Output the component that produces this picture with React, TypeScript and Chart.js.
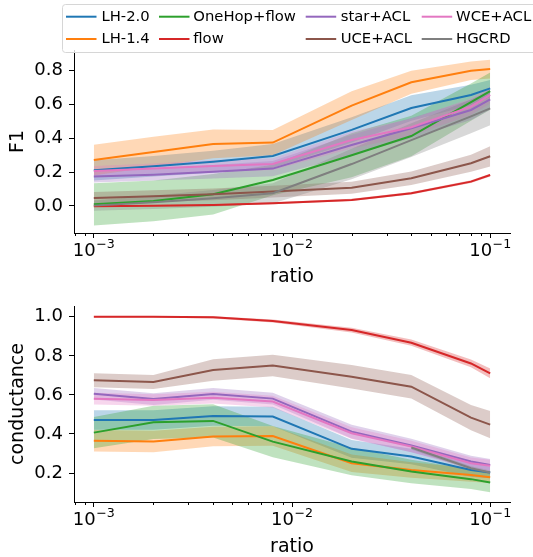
import React, { useEffect, useRef } from 'react';
import { Chart, registerables } from 'chart.js';

Chart.register(...registerables);

const FONT = '"DejaVu Sans", sans-serif';

// ---------- data ----------
const ratios = [0.001, 0.002, 0.004, 0.008, 0.02, 0.04, 0.08, 0.1];
const seriesNames = ['LH-2.0', 'LH-1.4', 'OneHop+flow', 'flow', 'star+ACL', 'UCE+ACL', 'WCE+ACL', 'HGCRD'];
const seriesColors = ['#1f77b4', '#ff7f0e', '#2ca02c', '#d62728', '#9467bd', '#8c564b', '#e377c2', '#7f7f7f'];
const xTickValues = [0.001, 0.01, 0.1];
const xTickBases = ['10', '10', '10'];
const xTickExponents = ['\u22123', '\u22122', '\u22121'];
const f1Ticks = [0.0, 0.2, 0.4, 0.6, 0.8];
const condTicks = [0.2, 0.4, 0.6, 0.8, 1.0];

// F1 means
const f1LH20 = [0.211, 0.235, 0.262, 0.296, 0.45, 0.58, 0.657, 0.696];
const f1LH14 = [0.272, 0.32, 0.367, 0.375, 0.594, 0.732, 0.8, 0.81];
const f1OneHop = [0.01, 0.03, 0.069, 0.154, 0.3, 0.414, 0.615, 0.68];
const f1Flow = [-0.002, 0.001, 0.005, 0.016, 0.036, 0.075, 0.144, 0.183];
const f1Star = [0.174, 0.185, 0.203, 0.221, 0.361, 0.46, 0.568, 0.631];
const f1UCE = [0.047, 0.058, 0.069, 0.085, 0.108, 0.164, 0.253, 0.294];
const f1WCE = [0.207, 0.222, 0.237, 0.248, 0.39, 0.466, 0.588, 0.657];
const f1HGCRD = [0.002, 0.022, 0.045, 0.075, 0.248, 0.39, 0.53, 0.578];
// F1 band half-widths
const f1LH20Err = [0.06, 0.06, 0.065, 0.07, 0.075, 0.075, 0.06, 0.05];
const f1LH14Err = [0.09, 0.09, 0.085, 0.075, 0.085, 0.068, 0.055, 0.055];
const f1OneHopErr = [0.125, 0.12, 0.12, 0.09, 0.13, 0.12, 0.11, 0.11];
const f1FlowErr = [0.004, 0.004, 0.005, 0.006, 0.006, 0.007, 0.008, 0.008];
const f1StarErr = [0.035, 0.035, 0.04, 0.045, 0.06, 0.06, 0.06, 0.06];
const f1UCEErr = [0.035, 0.035, 0.035, 0.035, 0.035, 0.04, 0.05, 0.06];
const f1WCEErr = [0.03, 0.03, 0.035, 0.035, 0.05, 0.05, 0.05, 0.05];
const f1HGCRDErr = [0.03, 0.04, 0.05, 0.06, 0.09, 0.1, 0.1, 0.1];

// conductance means
const cLH20 = [0.472, 0.472, 0.492, 0.489, 0.324, 0.285, 0.216, 0.203];
const cLH14 = [0.365, 0.361, 0.387, 0.39, 0.25, 0.216, 0.19, 0.179];
const cOneHop = [0.407, 0.46, 0.467, 0.361, 0.259, 0.208, 0.169, 0.152];
const cFlow = [1.0, 1.0, 0.997, 0.978, 0.932, 0.867, 0.761, 0.71];
const cStar = [0.606, 0.579, 0.605, 0.581, 0.412, 0.341, 0.259, 0.242];
const cUCE = [0.675, 0.666, 0.727, 0.75, 0.693, 0.642, 0.484, 0.448];
const cWCE = [0.581, 0.574, 0.586, 0.566, 0.404, 0.336, 0.25, 0.238];
const cHGCRD = [null, null, null, null, null, 0.331, 0.225, 0.203];
// conductance band half-widths
const cLH20Err = [0.05, 0.05, 0.05, 0.05, 0.045, 0.04, 0.035, 0.03];
const cLH14Err = [0.055, 0.055, 0.05, 0.05, 0.045, 0.04, 0.035, 0.03];
const cOneHopErr = [0.08, 0.085, 0.085, 0.08, 0.07, 0.06, 0.05, 0.05];
const cFlowErr = [0.004, 0.004, 0.006, 0.008, 0.012, 0.016, 0.02, 0.025];
const cStarErr = [0.03, 0.03, 0.03, 0.03, 0.035, 0.035, 0.03, 0.03];
const cUCEErr = [0.036, 0.036, 0.055, 0.055, 0.06, 0.06, 0.065, 0.07];
const cWCEErr = [0.03, 0.03, 0.03, 0.03, 0.03, 0.03, 0.03, 0.03];
const cHGCRDErr = [null, null, null, null, null, 0.01, 0.01, 0.01];

const f1Means = [f1LH20, f1LH14, f1OneHop, f1Flow, f1Star, f1UCE, f1WCE, f1HGCRD];
const f1Errs = [f1LH20Err, f1LH14Err, f1OneHopErr, f1FlowErr, f1StarErr, f1UCEErr, f1WCEErr, f1HGCRDErr];
const cMeans = [cLH20, cLH14, cOneHop, cFlow, cStar, cUCE, cWCE, cHGCRD];
const cErrs = [cLH20Err, cLH14Err, cOneHopErr, cFlowErr, cStarErr, cUCEErr, cWCEErr, cHGCRDErr];

// ---------- helpers ----------
function hexToRgba(hex: string, a: number) {
  const n = parseInt(hex.slice(1), 16);
  return `rgba(${(n >> 16) & 255},${(n >> 8) & 255},${n & 255},${a})`;
}

function buildDatasets(means: (number | null)[][], errs: (number | null)[][]) {
  const ds: any[] = [];
  means.forEach((m, i) => {
    const e = errs[i];
    const lower: any[] = [];
    const upper: any[] = [];
    ratios.forEach((x, j) => {
      const v = m[j];
      const d = e[j];
      if (v == null || d == null) return;
      lower.push({ x, y: v - d });
      upper.push({ x, y: v + d });
    });
    const lowIdx = ds.length;
    ds.push({
      label: '', data: lower, borderColor: 'rgba(0,0,0,0)', borderWidth: 0,
      pointRadius: 0, pointHoverRadius: 0, fill: false, order: 1000 - i,
    });
    ds.push({
      label: '', data: upper, borderColor: 'rgba(0,0,0,0)', borderWidth: 0,
      pointRadius: 0, pointHoverRadius: 0, fill: lowIdx,
      backgroundColor: hexToRgba(seriesColors[i], 0.3), order: 1000 - i,
    });
  });
  means.forEach((m, i) => {
    const pts: any[] = [];
    ratios.forEach((x, j) => {
      if (m[j] != null) pts.push({ x, y: m[j] });
    });
    ds.push({
      label: seriesNames[i], data: pts, borderColor: seriesColors[i], borderWidth: 2,
      pointRadius: 0, pointHoverRadius: 0, fill: false, tension: 0, order: 100 - i,
    });
  });
  return ds;
}

// minor log ticks + matplotlib-style "10^k" labels
const xAxisDecorPlugin = {
  id: 'xAxisDecor',
  afterDraw(chart: any) {
    const xs = chart.scales.x;
    const ctx = chart.ctx;
    const y0 = chart.chartArea.bottom;
    ctx.save();
    ctx.strokeStyle = '#000';
    ctx.lineWidth = 1;
    for (let k = -4; k <= 0; k++) {
      for (let m = 2; m <= 9; m++) {
        const v = m * Math.pow(10, k);
        if (v < xs.min || v > xs.max) continue;
        const px = Math.round(xs.getPixelForValue(v)) + 0.5;
        ctx.beginPath();
        ctx.moveTo(px, y0);
        ctx.lineTo(px, y0 + 3);
        ctx.stroke();
      }
    }
    ctx.fillStyle = '#000';
    ctx.textBaseline = 'alphabetic';
    ctx.textAlign = 'left';
    xTickValues.forEach((v, i) => {
      const px = xs.getPixelForValue(v);
      ctx.font = `18px ${FONT}`;
      const wb = ctx.measureText(xTickBases[i]).width;
      ctx.font = `12.6px ${FONT}`;
      const we = ctx.measureText(xTickExponents[i]).width;
      const start = px - (wb + we + 0.5) / 2;
      ctx.font = `18px ${FONT}`;
      ctx.fillText(xTickBases[i], start, y0 + 23);
      ctx.font = `12.6px ${FONT}`;
      ctx.fillText(xTickExponents[i], start + wb + 0.5, y0 + 15);
    });
    ctx.restore();
  },
};

const legendPlugin = {
  id: 'mplLegend',
  afterDraw(chart: any) {
    const ctx = chart.ctx;
    ctx.save();
    const x0 = 62.5, y0 = 4.5, x1 = 560, y1 = 52.5, r = 3;
    ctx.beginPath();
    ctx.moveTo(x0 + r, y0);
    ctx.lineTo(x1 - r, y0);
    ctx.arcTo(x1, y0, x1, y0 + r, r);
    ctx.lineTo(x1, y1 - r);
    ctx.arcTo(x1, y1, x1 - r, y1, r);
    ctx.lineTo(x0 + r, y1);
    ctx.arcTo(x0, y1, x0, y1 - r, r);
    ctx.lineTo(x0, y0 + r);
    ctx.arcTo(x0, y0, x0 + r, y0, r);
    ctx.closePath();
    ctx.fillStyle = 'rgba(255,255,255,0.8)';
    ctx.fill();
    ctx.strokeStyle = '#d6d6d6';
    ctx.lineWidth = 1;
    ctx.stroke();
    const cols = [[66, 101.5], [159, 193.3], [305.7, 340.7], [421.7, 456]];
    const rows = [16.7, 39];
    seriesNames.forEach((name, i) => {
      const c = cols[Math.floor(i / 2)];
      const yy = rows[i % 2];
      ctx.strokeStyle = seriesColors[i];
      ctx.lineWidth = 2;
      ctx.beginPath();
      ctx.moveTo(c[0], yy);
      ctx.lineTo(c[0] + 30.5, yy);
      ctx.stroke();
      ctx.fillStyle = '#000';
      ctx.font = `14.8px ${FONT}`;
      ctx.textBaseline = 'middle';
      ctx.textAlign = 'left';
      ctx.fillText(name, c[1], yy);
    });
    ctx.restore();
  },
};

function makeConfig(opts: {
  means: (number | null)[][]; errs: (number | null)[][]; yMin: number; yMax: number;
  yTicks: number[]; yTitle: string; padTop: number; xHeight: number; legend: boolean;
}) {
  const plugins: any[] = [xAxisDecorPlugin];
  if (opts.legend) plugins.push(legendPlugin);
  return {
    type: 'line' as const,
    data: { datasets: buildDatasets(opts.means, opts.errs) },
    plugins,
    options: {
      responsive: false,
      animation: false,
      events: [],
      devicePixelRatio: 1,
      layout: { padding: { top: opts.padTop, right: 23, left: 0, bottom: 0 } },
      plugins: { legend: { display: false }, tooltip: { enabled: false }, filler: { propagate: false } },
      scales: {
        x: {
          type: 'logarithmic',
          min: Math.pow(10, -3.1),
          max: Math.pow(10, -0.9),
          afterBuildTicks: (s: any) => { s.ticks = xTickValues.map((v) => ({ value: v, major: true })); },
          afterFit: (s: any) => { s.height = opts.xHeight; },
          ticks: {
            autoSkip: false, maxRotation: 0, minRotation: 0, padding: 2.5, color: '#000',
            font: { family: FONT, size: 18 },
            callback: () => '',
          },
          grid: { drawOnChartArea: false, tickLength: 5, tickColor: '#000', color: '#000' },
          border: { display: true, color: '#000', width: 1 },
          title: {
            display: true, text: 'ratio', color: '#000',
            font: { family: FONT, size: 19, lineHeight: 1 }, padding: { top: 0, bottom: 0 },
          },
        },
        y: {
          type: 'linear',
          min: opts.yMin,
          max: opts.yMax,
          afterBuildTicks: (s: any) => { s.ticks = opts.yTicks.map((v) => ({ value: v })); },
          afterFit: (s: any) => { s.width = 74; },
          ticks: {
            padding: 6, color: '#000', font: { family: FONT, size: 18 },
            callback: (v: any) => Number(v).toFixed(1),
          },
          grid: { drawOnChartArea: false, tickLength: 5, tickColor: '#000', color: '#000' },
          border: { display: true, color: '#000', width: 1 },
          title: {
            display: true, text: opts.yTitle, color: '#000',
            font: { family: FONT, size: 19, lineHeight: 1 }, padding: { top: 9, bottom: 0 },
          },
        },
      },
    },
  };
}

export default function App() {
  const topRef = useRef<HTMLCanvasElement | null>(null);
  const botRef = useRef<HTMLCanvasElement | null>(null);

  useEffect(() => {
    Chart.defaults.font.family = FONT;
    const c1 = new Chart(topRef.current as HTMLCanvasElement, makeConfig({
      means: f1Means, errs: f1Errs, yMin: -0.16, yMax: 0.923, yTicks: f1Ticks,
      yTitle: 'F1', padTop: 50, xHeight: 54, legend: true,
    }) as any);
    const c2 = new Chart(botRef.current as HTMLCanvasElement, makeConfig({
      means: cMeans, errs: cErrs, yMin: 0.052, yMax: 1.055, yTicks: condTicks,
      yTitle: 'conductance', padTop: 19, xHeight: 55, legend: false,
    }) as any);
    return () => { c1.destroy(); c2.destroy(); };
  }, []);

  return (
    <div style={{ position: 'absolute', left: 0, top: 0, width: 533, height: 557, background: '#fff', overflow: 'hidden' }}>
      <canvas ref={topRef} width={533} height={287}
        style={{ position: 'absolute', left: 0, top: 0, width: 533, height: 287 }} />
      <canvas ref={botRef} width={533} height={270}
        style={{ position: 'absolute', left: 0, top: 287, width: 533, height: 270 }} />
    </div>
  );
}
